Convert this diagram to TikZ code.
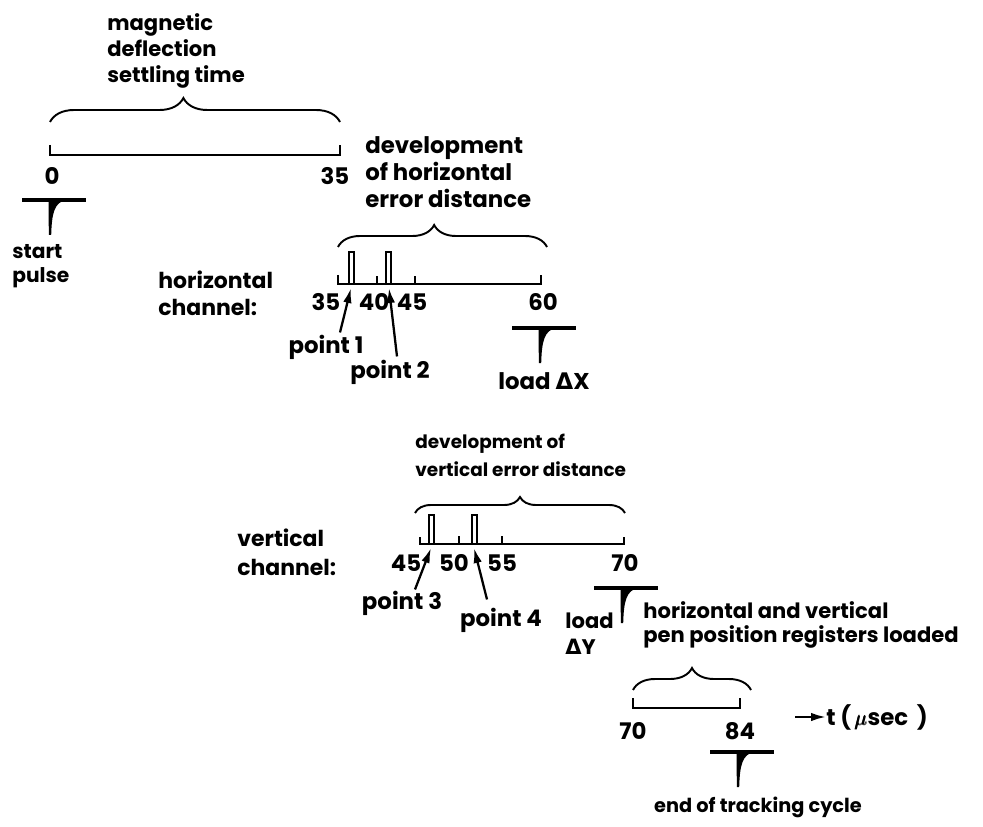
\documentclass[tikz,border=0pt]{standalone}
\usepackage{amsmath}
\usepackage{fontspec}
\setmainfont{Poppins}
\newfontfamily\grkfont{DejaVu Sans}
\usetikzlibrary{arrows.meta,decorations.pathreplacing,positioning}

% trigger pulse: bar with a spike going down
\tikzset{
  pics/trig/.style={code={
    \draw[line width=1.9pt] (-28,0) -- (36,0);
    \fill (-1.4,0) -- (-1.2,35) -- (1.2,35) .. controls (1.8,14) and (4,1.5) .. (17,0) -- cycle;
  }}
}

\begin{document}
\begin{tikzpicture}[x=0.02cm,y=-0.02cm,
  font=\fontsize{13}{16}\selectfont\bfseries,
  every node/.style={inner sep=0pt},
  sz/.style 2 args={font=\fontsize{#1}{#2}\selectfont\bfseries},
  txt/.style={align=left,anchor=west},
  axisline/.style={line width=1.1pt},
  bracket/.style={line width=1.1pt,decorate,decoration={brace,amplitude=#1}},
  bracket/.default=0.44cm,
  slot/.style={line width=0.9pt},
  ptr/.style={line width=1.3pt,-{Latex[length=0.3cm,width=0.17cm]}}]
\useasboundingbox (0,0) rectangle (983,827);

% settling time
\node[txt,sz={12}{14.8}] (settle) at (107,51) {magnetic\\deflection\\settling time};
\draw[bracket=0.48cm,decoration={aspect=0.46}] (50,122) -- (340,122);
\draw[axisline] (50,145) -- (50,155) -- (340,155) -- (340,145);
\node (s0) at (52,176) {0};
\node (s35) at (335,176) {35};
\pic at (50,200) {trig};
\node[txt,sz={11.5}{13.6}] (start) at (12,266) {start\\pulse};

% horizontal channel
\node[txt,sz={12.5}{15.3}] (hch) at (158,293) {horizontal\\channel:};
\node[txt,sz={13}{15.3}] (hdev) at (365,172) {development\\of horizontal\\error distance};
\draw[bracket=0.44cm,decoration={aspect=0.46}] (338,247) -- (547,247);
\draw[axisline] (338,275) -- (338,284) -- (541,284) -- (541,275);
\foreach \x in {377,415} \draw[axisline] (\x,284) -- (\x,276);
\foreach \x in {349,386} \draw[slot] (\x,284) |- (\x+5,252) -- (\x+5,284);
\node (h35) at (326,302) {35};
\node (h40) at (374,302) {40};
\node (h45) at (412,302) {45};
\node (h60) at (543,302) {60};
\coordinate (hp1) at (351,288);
\coordinate (hp2) at (389,288);
\node (pt1) at (326,347) {point 1};
\node (pt2) at (390,372) {point 2};
\draw[ptr] ([xshift=0.28cm,yshift=0.04cm]pt1.north) -- (hp1);
\draw[ptr] ([xshift=0.14cm,yshift=0.06cm]pt2.north) -- (hp2);
\pic at (540,328) {trig};
\node (ldx) at (544,381) {load {\grkfont\bfseries Δ}X};

% vertical channel
\node[txt,sz={12.5}{16.4}] (vch) at (237,552) {vertical\\channel:};
\node[txt,sz={10.5}{16}] (vdev) at (415,455) {development of\\vertical error distance};
\draw[bracket=0.32cm] (415,513) -- (625,513);
\draw[axisline] (420,537) -- (420,544) -- (624,544) -- (624,537);
\foreach \x in {459,502} \draw[axisline] (\x,544) -- (\x,536);
\foreach \x in {429,472} \draw[slot] (\x,544) |- (\x+5,515) -- (\x+5,544);
\node (v45) at (406,563) {45};
\node (v50) at (454,563) {50};
\node (v55) at (502,563) {55};
\node (v70) at (625,563) {70};
\coordinate (vp3) at (431,548);
\coordinate (vp4) at (474,548);
\node (pt3) at (402,603) {point 3};
\node (pt4) at (501,620) {point 4};
\draw[ptr] ([xshift=0.26cm,yshift=0.02cm]pt3.north) -- (vp3);
\draw[ptr] ([xshift=-0.28cm,yshift=0.16cm]pt4.north) -- (vp4);
\pic at (622,588) {trig};
\node[txt,sz={12}{14.8}] (ldy) at (565,634) {load\\{\grkfont\bfseries Δ}Y};

% registers loaded
\node[txt,sz={12}{13.6}] (regs) at (643,625) {horizontal and vertical\\pen position registers loaded};
\draw[bracket=0.44cm] (633,690) -- (751,690);
\draw[axisline] (633,698) -- (633,708) -- (740,708) -- (740,698);
\node (r70) at (633,731) {70};
\node (r84) at (740,731) {84};
\coordinate (tax) at (795,717);
\node[anchor=west] (tunit) at (826,717) {t (\,$\pmb{\mu}$sec\, )};
\draw[ptr] (tax) -- (tunit.west);
\pic at (738,752) {trig};
\node[sz={11}{14}] (endc) at (758,807) {end of tracking cycle};
\end{tikzpicture}
\end{document}
